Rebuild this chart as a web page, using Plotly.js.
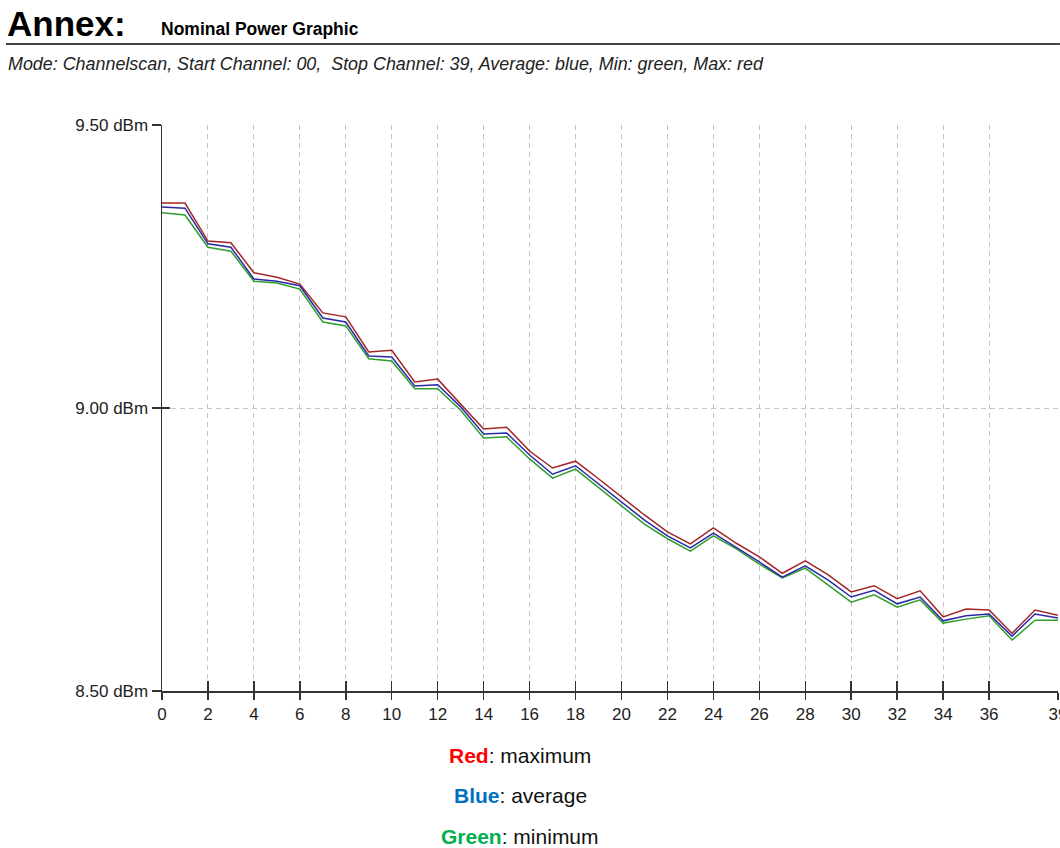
<!DOCTYPE html>
<html>
<head>
<meta charset="utf-8">
<script src="https://cdn.plot.ly/plotly-3.0.1.min.js"></script>
<style>html,body{margin:0;padding:0;background:#fff;overflow:hidden}#chart{width:1060px;height:848px}</style>
</head>
<body>
<div id="chart"></div>
<script>
const channels = [0,1,2,3,4,5,6,7,8,9,10,11,12,13,14,15,16,17,18,19,20,21,22,23,24,25,26,27,28,29,30,31,32,33,34,35,36,37,38,39];
const maxValues = [9.362,9.362,9.295,9.292,9.239,9.231,9.219,9.168,9.161,9.099,9.102,9.046,9.051,9.007,8.963,8.966,8.924,8.894,8.906,8.875,8.843,8.811,8.781,8.760,8.788,8.761,8.737,8.708,8.730,8.705,8.675,8.686,8.663,8.677,8.631,8.645,8.643,8.602,8.643,8.634];
const avgValues = [9.355,9.353,9.290,9.284,9.228,9.224,9.216,9.159,9.152,9.092,9.090,9.039,9.041,9.002,8.954,8.956,8.917,8.883,8.898,8.866,8.834,8.802,8.774,8.753,8.779,8.754,8.728,8.701,8.721,8.696,8.666,8.678,8.654,8.666,8.624,8.633,8.636,8.597,8.636,8.629];
const minValues = [9.345,9.341,9.284,9.277,9.224,9.221,9.210,9.152,9.145,9.087,9.083,9.034,9.034,8.996,8.947,8.949,8.910,8.876,8.892,8.859,8.827,8.795,8.769,8.747,8.774,8.751,8.724,8.700,8.717,8.687,8.657,8.670,8.648,8.661,8.620,8.627,8.633,8.590,8.625,8.625];
const xTickVals = [0,2,4,6,8,10,12,14,16,18,20,22,24,26,28,30,32,34,36,39];
const yTickVals = [8.5,9.0,9.5];
const yTickText = ['8.50 dBm','9.00 dBm','9.50 dBm'];

const traces = [
  {x: channels, y: minValues, mode: 'lines', line: {color: '#2f9e2f', width: 1.5}, hoverinfo: 'skip'},
  {x: channels, y: maxValues, mode: 'lines', line: {color: '#a32626', width: 1.5}, hoverinfo: 'skip'},
  {x: channels, y: avgValues, mode: 'lines', line: {color: '#2a2aa6', width: 1.5}, hoverinfo: 'skip'},
  {x: [0, 39], y: [8.5, 8.5], xaxis: 'x2', yaxis: 'y', mode: 'lines', line: {width: 0}, hoverinfo: 'skip'},
  {x: [0, 39], y: [8.5, 8.5], xaxis: 'x', yaxis: 'y2', mode: 'lines', line: {width: 0}, hoverinfo: 'skip'}
];

const F = 'Arial, "Liberation Sans", sans-serif';
const tickF = {family: F, size: 17, color: '#222'};
const layout = {
  width: 1060, height: 848, autosize: false,
  margin: {l: 162, r: 2, t: 125, b: 157},
  paper_bgcolor: '#fff', plot_bgcolor: '#fff',
  showlegend: false,
  xaxis: {
    range: [0, 39], tickmode: 'array', tickvals: xTickVals,
    ticks: 'outside', ticklen: 7, tickwidth: 1.5, tickcolor: '#333',
    showline: true, linecolor: '#333', linewidth: 1.5,
    showgrid: true, gridcolor: '#c4c4c4', griddash: '5px,4px', gridwidth: 1,
    zeroline: false, tickfont: tickF, ticklabeloverflow: 'allow', fixedrange: true
  },
  xaxis2: {
    overlaying: 'x', matches: 'x', range: [0, 39], tickmode: 'array', tickvals: xTickVals,
    ticks: 'inside', ticklen: 10, tickwidth: 1.5, tickcolor: '#333',
    showticklabels: false, showgrid: false, zeroline: false, showline: false, fixedrange: true
  },
  yaxis: {
    range: [8.5, 9.5], tickmode: 'array', tickvals: yTickVals, ticktext: yTickText,
    ticks: 'outside', ticklen: 9, tickwidth: 1.5, tickcolor: '#333',
    showline: true, linecolor: '#333', linewidth: 1.5,
    showgrid: true, gridcolor: '#c4c4c4', griddash: '5px,4px', gridwidth: 1,
    zeroline: false, tickfont: tickF, ticklabelstandoff: 0, fixedrange: true
  },
  yaxis2: {
    overlaying: 'y', matches: 'y', range: [8.5, 9.5], tickmode: 'array', tickvals: yTickVals,
    ticks: 'inside', ticklen: 8, tickwidth: 1.5, tickcolor: '#333',
    showticklabels: false, showgrid: false, zeroline: false, showline: false, fixedrange: true
  },
  shapes: [
    {type: 'line', xref: 'paper', yref: 'paper', x0: -0.1741, x1: 1.0022, y0: 1.1431, y1: 1.1431, line: {color: '#444', width: 2}}
  ],
  annotations: [
    {text: '<b>Annex:</b>', xref: 'paper', yref: 'paper', x: -0.1752, y: 1.180, xanchor: 'left', yanchor: 'middle', showarrow: false, font: {family: F, size: 35, color: '#000'}},
    {text: '<b>Nominal Power Graphic</b>', xref: 'paper', yref: 'paper', x: -0.0033, y: 1.1696, xanchor: 'left', yanchor: 'middle', showarrow: false, font: {family: F, size: 17.5, color: '#000'}},
    {text: '<i>Mode: Channelscan, Start Channel: 00, \u00a0Stop Channel: 39, Average: blue, Min: green, Max: red</i>', xref: 'paper', yref: 'paper', x: -0.1741, y: 1.1078, xanchor: 'left', yanchor: 'middle', showarrow: false, font: {family: F, size: 17.9, color: '#222'}},
    {text: '<b><span style="color:#ff0000">Red</span></b>: maximum', xref: 'paper', yref: 'paper', x: 0.3996, y: -0.1148, xanchor: 'center', yanchor: 'middle', showarrow: false, font: {family: F, size: 21, color: '#111'}},
    {text: '<b><span style="color:#0070c0">Blue</span></b>: average', xref: 'paper', yref: 'paper', x: 0.3996, y: -0.1855, xanchor: 'center', yanchor: 'middle', showarrow: false, font: {family: F, size: 21, color: '#111'}},
    {text: '<b><span style="color:#00b050">Green</span></b>: minimum', xref: 'paper', yref: 'paper', x: 0.3996, y: -0.2562, xanchor: 'center', yanchor: 'middle', showarrow: false, font: {family: F, size: 21, color: '#111'}}
  ]
};

Plotly.newPlot('chart', traces, layout, {displayModeBar: false, staticPlot: true});
</script>
</body>
</html>
